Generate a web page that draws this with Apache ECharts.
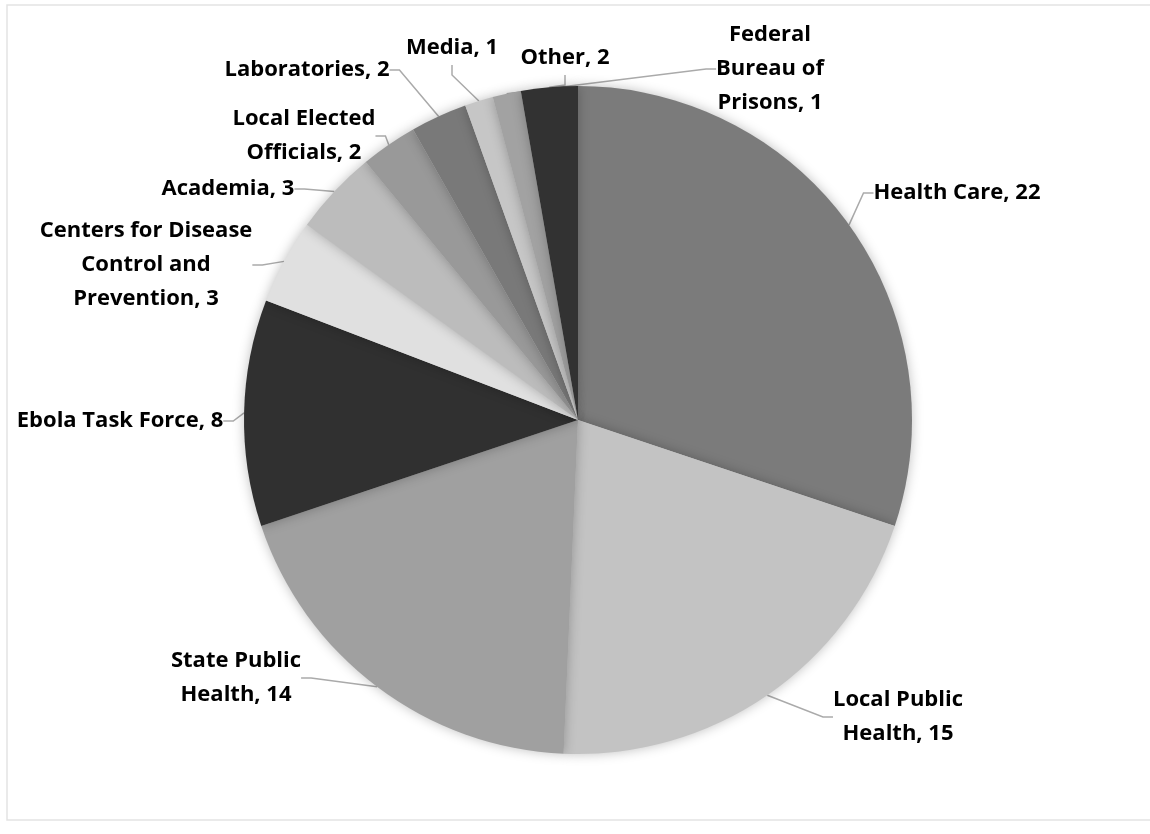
<!DOCTYPE html>
<html>
<head>
<meta charset="utf-8">
<script src="https://cdn.jsdelivr.net/npm/echarts@6/dist/echarts.min.js"></script>
<style>
  html, body { margin: 0; padding: 0; background: #fff; }
  #chart { width: 1150px; height: 834px; }
</style>
</head>
<body>
<div id="chart"></div>
<script>
// slices, clockwise from 12 o'clock
let names = ['Health Care', 'Local Public Health', 'State Public Health', 'Ebola Task Force',
  'Centers for Disease Control and Prevention', 'Academia', 'Local Elected Officials',
  'Laboratories', 'Media', 'Federal Bureau of Prisons', 'Other'];
let values = [22, 15, 14, 8, 3, 3, 2, 2, 1, 1, 2];
// label text as wrapped in the original
let labelText = ['Health Care, 22', 'Local Public\nHealth, 15', 'State Public\nHealth, 14',
  'Ebola Task Force, 8', 'Centers for Disease\nControl and\nPrevention, 3', 'Academia, 3',
  'Local Elected\nOfficials, 2', 'Laboratories, 2', 'Media, 1', 'Federal\nBureau of\nPrisons, 1', 'Other, 2'];
let colors = ['#7b7b7b', '#c3c3c3', '#a0a0a0', '#303030', '#e0e0e0', '#bcbcbc',
  '#999999', '#797979', '#c6c6c6', '#a2a2a2', '#323232'];
// where each label block is centred (px), like the hand-placed labels of the original
let labelPos = [[957, 193], [898, 717], [236, 678], [120, 421], [146, 265], [228, 189],
  [304, 136], [307, 70], [452, 48], [770, 69], [565, 58]];

let data = [];
for (let i = 0; i < names.length; i++) {
  data.push({
    name: names[i],
    value: values[i],
    itemStyle: { color: colors[i] },
    label: { formatter: labelText[i] }
  });
}

let chart = echarts.init(document.getElementById('chart'));
// the series box is made wider than the page so that pie does not clip the long labels
let padX = 400;
let opt = {
  backgroundColor: '#fff',
  animation: false,
  graphic: [{
    type: 'rect',
    shape: { x: 7, y: 5, width: 1160, height: 815 },
    style: { fill: 'none', stroke: '#e3e3e3', lineWidth: 1.5 }
  }],
  series: [{
    type: 'pie',
    left: -padX,
    right: -padX,
    top: 0,
    bottom: 0,
    center: [578 + padX, 420],
    radius: 334,
    startAngle: 90,
    clockwise: true,
    data,
    itemStyle: {
      borderWidth: 0,
      shadowBlur: 12,
      shadowColor: 'rgba(0,0,0,0.25)'
    },
    label: {
      show: true,
      position: 'outside',
      color: '#000',
      fontFamily: 'Open Sans',
      fontWeight: 'bold',
      fontSize: 22,
      lineHeight: 34,
      align: 'center'
    },
    labelLine: {
      show: true,
      length: 14,
      length2: 10,
      lineStyle: { color: '#aaaaaa', width: 1.5 }
    },
    labelLayout: function (p) {
      let pos = labelPos[p.dataIndex];
      return {
        x: pos[0],
        y: pos[1],
        align: 'center',
        verticalAlign: 'middle'
      };
    }
  }]
};
chart.setOption(opt);
</script>
</body>
</html>
